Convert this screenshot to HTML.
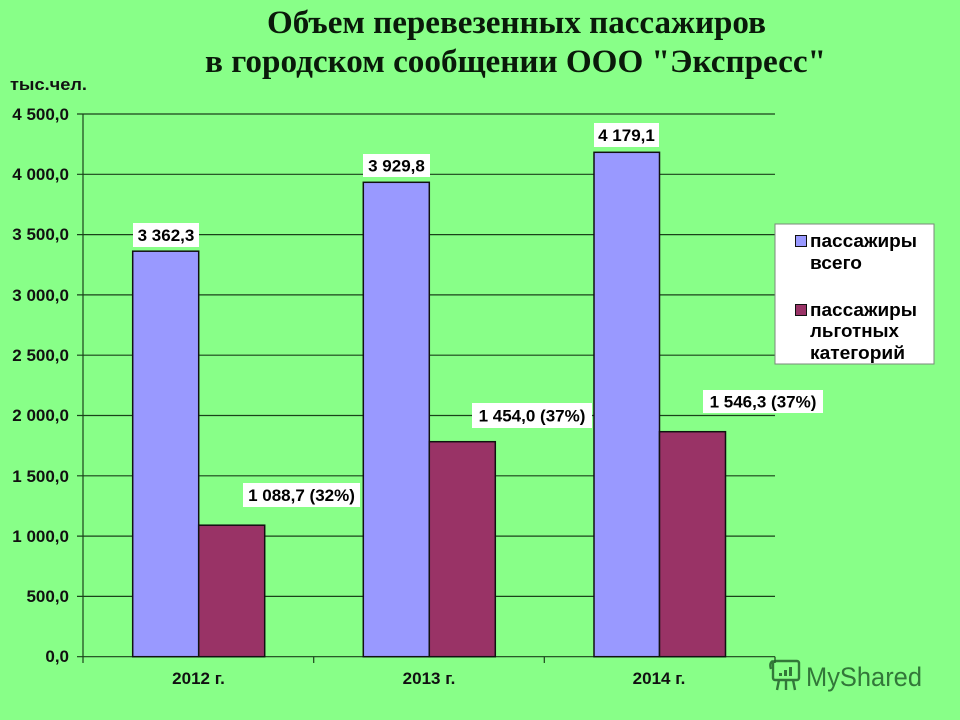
<!DOCTYPE html>
<html>
<head>
<meta charset="utf-8">
<style>
  html,body{margin:0;padding:0;background:#88ff88;}
  svg{display:block;}
  .ax{font-family:"Liberation Sans",Arial,sans-serif;font-weight:bold;font-size:17px;fill:#111;}
  .lb{font-family:"Liberation Sans",Arial,sans-serif;font-weight:bold;font-size:17px;fill:#000;}
  .tt{font-family:"Liberation Serif","Times New Roman",serif;font-weight:bold;font-size:33px;fill:#0a1a0a;}
</style>
</head>
<body>
<svg width="960" height="720" viewBox="0 0 960 720" xmlns="http://www.w3.org/2000/svg">
  <rect x="0" y="0" width="960" height="720" fill="#88ff88"/>

  <!-- Title -->
  <text class="tt" x="267" y="33" textLength="499" lengthAdjust="spacingAndGlyphs">Объем перевезенных пассажиров</text>
  <text class="tt" x="205" y="72" textLength="621" lengthAdjust="spacingAndGlyphs">в городском сообщении ООО "Экспресс"</text>

  <!-- units -->
  <text class="ax" x="10" y="90" textLength="77" lengthAdjust="spacingAndGlyphs">тыс.чел.</text>

  <!-- gridlines -->
  <g stroke="#1a421a" stroke-width="1.2">
    <line x1="77" y1="114" x2="775" y2="114"/>
    <line x1="77" y1="174.3" x2="775" y2="174.3"/>
    <line x1="77" y1="234.6" x2="775" y2="234.6"/>
    <line x1="77" y1="294.9" x2="775" y2="294.9"/>
    <line x1="77" y1="355.2" x2="775" y2="355.2"/>
    <line x1="77" y1="415.5" x2="775" y2="415.5"/>
    <line x1="77" y1="475.8" x2="775" y2="475.8"/>
    <line x1="77" y1="536.1" x2="775" y2="536.1"/>
    <line x1="77" y1="596.4" x2="775" y2="596.4"/>
    <line x1="77" y1="656.7" x2="775" y2="656.7"/>
    <!-- y axis -->
    <line x1="83" y1="114" x2="83" y2="657"/>
    <!-- x ticks -->
    <line x1="83" y1="656.7" x2="83" y2="663"/>
    <line x1="313.7" y1="656.7" x2="313.7" y2="663"/>
    <line x1="544.3" y1="656.7" x2="544.3" y2="663"/>
    <line x1="775" y1="656.7" x2="775" y2="663"/>
  </g>

  <!-- y labels -->
  <g class="ax" text-anchor="end">
    <text x="69" y="120">4 500,0</text>
    <text x="69" y="180">4 000,0</text>
    <text x="69" y="240">3 500,0</text>
    <text x="69" y="301">3 000,0</text>
    <text x="69" y="361">2 500,0</text>
    <text x="69" y="421">2 000,0</text>
    <text x="69" y="482">1 500,0</text>
    <text x="69" y="542">1 000,0</text>
    <text x="69" y="602">500,0</text>
    <text x="69" y="662">0,0</text>
  </g>

  <!-- bars -->
  <g stroke="#111" stroke-width="1.5">
    <rect x="132.7" y="251.2" width="66" height="405.5" fill="#9999ff"/>
    <rect x="198.7" y="525.2" width="66" height="131.5" fill="#993366"/>
    <rect x="363.3" y="182.3" width="66" height="474.4" fill="#9999ff"/>
    <rect x="429.3" y="441.7" width="66" height="215" fill="#993366"/>
    <rect x="594" y="152.3" width="65.5" height="504.4" fill="#9999ff"/>
    <rect x="659.5" y="431.7" width="66" height="225" fill="#993366"/>
  </g>

  <!-- data labels -->
  <g>
    <rect x="133" y="223" width="66" height="24" fill="#fff"/>
    <rect x="363" y="154" width="67" height="23" fill="#fff"/>
    <rect x="594" y="123" width="65" height="24" fill="#fff"/>
    <rect x="243" y="483" width="117" height="24" fill="#fff"/>
    <rect x="472" y="403" width="120" height="25" fill="#fff"/>
    <rect x="703" y="390" width="120" height="23" fill="#fff"/>
  </g>
  <g class="lb" text-anchor="middle">
    <text x="166" y="241">3 362,3</text>
    <text x="396.5" y="171.5">3 929,8</text>
    <text x="626.5" y="141">4 179,1</text>
    <text x="301.5" y="501">1 088,7 (32%)</text>
    <text x="532" y="421.5">1 454,0 (37%)</text>
    <text x="763" y="407.5">1 546,3 (37%)</text>
  </g>

  <!-- category labels -->
  <g class="ax" text-anchor="middle">
    <text x="198.5" y="684">2012 г.</text>
    <text x="429" y="684">2013 г.</text>
    <text x="659" y="684">2014 г.</text>
  </g>

  <!-- legend -->
  <rect x="775" y="224" width="159" height="140" fill="#fff" stroke="#7a8a7a" stroke-width="1"/>
  <rect x="795.5" y="235.5" width="11" height="11" fill="#9999ff" stroke="#111" stroke-width="1"/>
  <rect x="795.5" y="304.5" width="11" height="11" fill="#993366" stroke="#111" stroke-width="1"/>
  <g class="lb" style="font-size:18px">
    <text x="810" y="247" textLength="107" lengthAdjust="spacingAndGlyphs">пассажиры</text>
    <text x="810" y="269" textLength="52" lengthAdjust="spacingAndGlyphs">всего</text>
    <text x="810" y="316" textLength="107" lengthAdjust="spacingAndGlyphs">пассажиры</text>
    <text x="810" y="337" textLength="89" lengthAdjust="spacingAndGlyphs">льготных</text>
    <text x="810" y="359" textLength="95" lengthAdjust="spacingAndGlyphs">категорий</text>
  </g>

  <!-- watermark -->
  <g opacity="0.85" stroke="#24602c" fill="none" stroke-width="2.4">
    <rect x="773" y="661" width="26" height="19" rx="2"/>
    <path d="M773 661 q-4 2 -2 8"/>
    <line x1="779" y1="680" x2="777" y2="690"/>
    <line x1="786" y1="680" x2="786" y2="690"/>
    <line x1="793" y1="680" x2="795" y2="690"/>
  </g>
  <g opacity="0.85" fill="#24602c">
    <rect x="779" y="673" width="3" height="3"/>
    <rect x="784" y="670" width="3" height="6"/>
    <rect x="789" y="667" width="3" height="9"/>
  </g>
  <text x="806" y="686" font-family="'Liberation Sans','DejaVu Sans',sans-serif" font-size="27" fill="#24602c" opacity="0.85" textLength="116" lengthAdjust="spacingAndGlyphs">MyShared</text>
</svg>
</body>
</html>
